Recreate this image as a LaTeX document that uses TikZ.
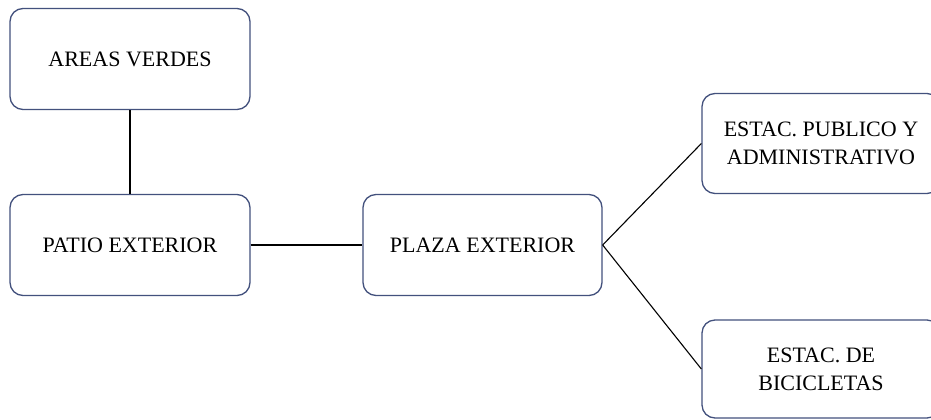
\documentclass[tikz,border=0pt]{standalone}
\usepackage{fontspec}
\setmainfont{Liberation Serif}
\definecolor{boxline}{HTML}{43517D}
\begin{document}
\begin{tikzpicture}[x=1pt,y=-1pt,
  box/.style={draw=boxline, line width=1.3pt, rounded corners=13pt, fill=white,
    align=center, inner sep=0pt, font=\fontsize{22}{28}\selectfont},
  conn/.style={draw=black, line width=1.1pt}]
\useasboundingbox[fill=white] (0,0) rectangle (931,420);
\begin{scope}
\clip (0,0) rectangle (931,420);
\node[box, minimum width=240pt, minimum height=101pt] (av) at (130,59) {AREAS VERDES};
\node[box, minimum width=240pt, minimum height=101pt] (pe) at (130,245) {PATIO EXTERIOR};
\node[box, minimum width=239pt, minimum height=101pt] (pl) at (482.5,245) {PLAZA EXTERIOR};
\node[box, minimum width=238pt, minimum height=100pt] (ep) at (821,143.5) {ESTAC. PUBLICO Y\\ADMINISTRATIVO};
\node[box, minimum width=238pt, minimum height=98pt] (eb) at (821,369) {ESTAC. DE\\BICICLETAS};
\draw[conn] (av.south) -- (pe.north);
\draw[conn] (pe.east) -- (pl.west);
\draw[conn] (pl.east) -- (ep.west);
\draw[conn] (pl.east) -- (eb.west);
\end{scope}
\end{tikzpicture}
\end{document}
